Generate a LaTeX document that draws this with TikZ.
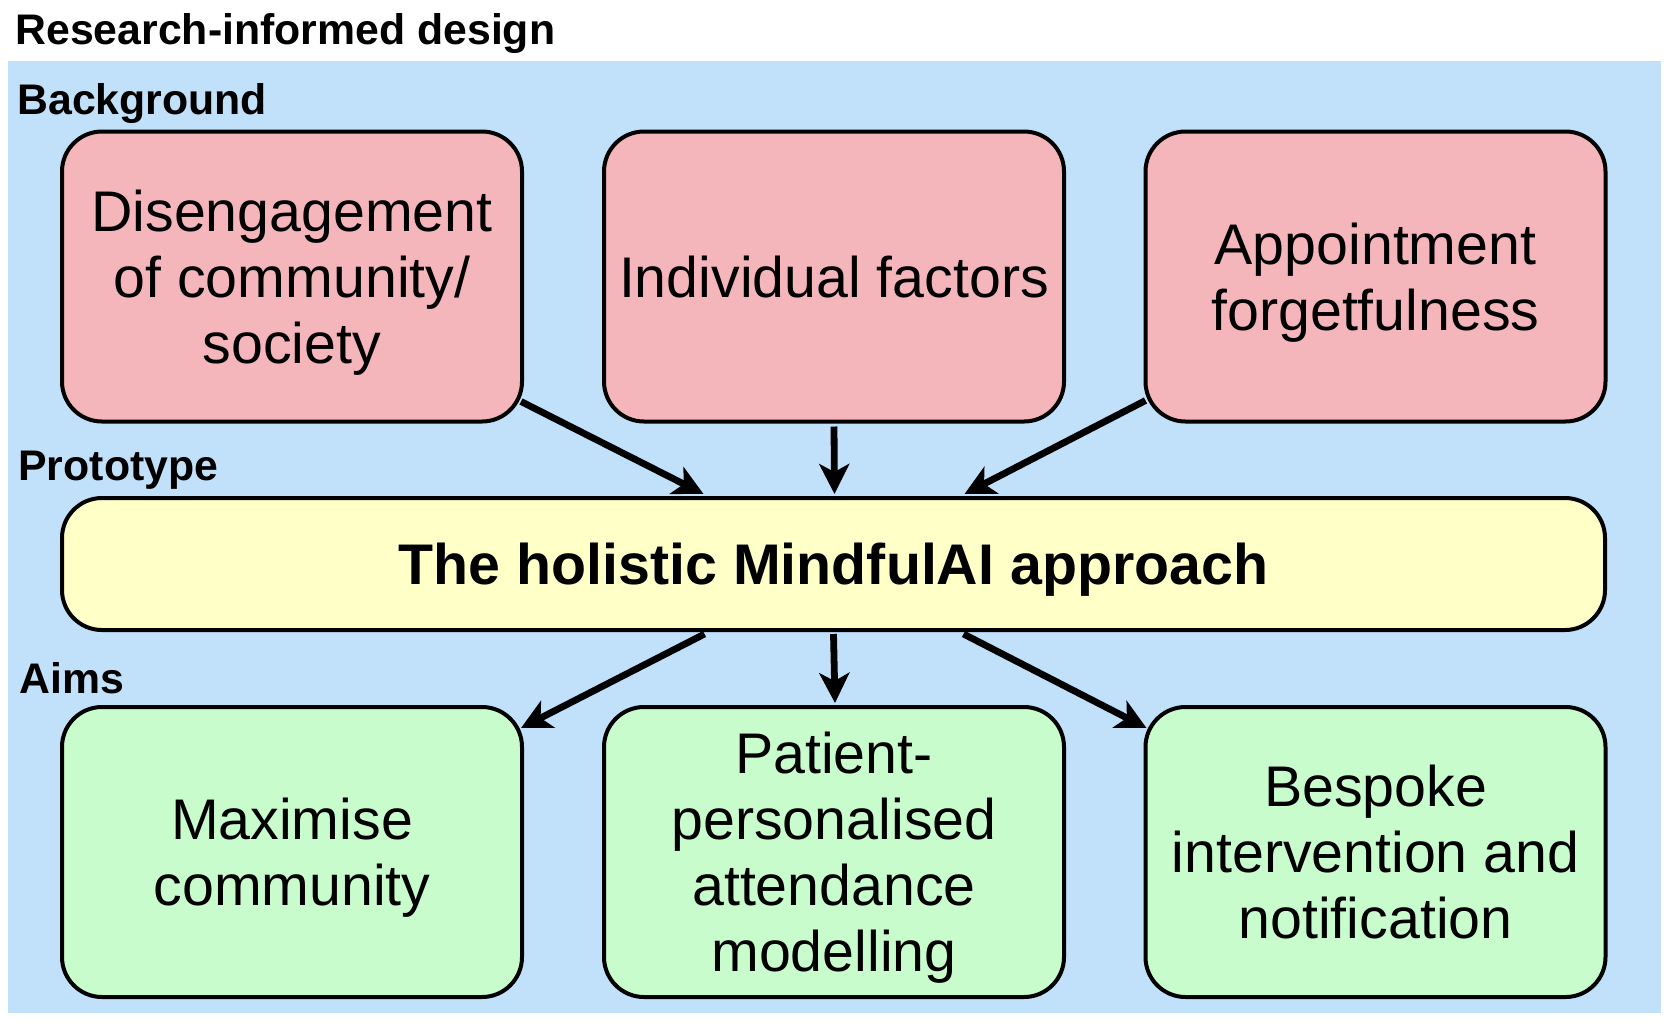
\documentclass[tikz,border=0pt]{standalone}
\usepackage{fontspec}
\setmainfont{Liberation Sans}
\usetikzlibrary{arrows.meta}
\definecolor{bgblue}{RGB}{193,224,250}
\definecolor{pinkfill}{RGB}{244,181,187}
\definecolor{yellowfill}{RGB}{255,255,200}
\definecolor{greenfill}{RGB}{200,252,205}
\begin{document}
\begin{tikzpicture}[x=0.5pt,y=-0.5pt,
  box/.style={draw=black, line width=2pt, rounded corners=20pt,
    minimum width=230pt, minimum height=145pt, align=center, inner sep=0pt,
    text depth=0pt, font=\fontsize{28.65}{33}\selectfont},
  pinkbox/.style={box, fill=pinkfill},
  greenbox/.style={box, fill=greenfill},
  midbox/.style={box, fill=yellowfill, minimum width=771.5pt, minimum height=66pt,
    font=\fontsize{28.65}{33}\selectfont\bfseries},
  lbl/.style={anchor=base west, inner sep=0pt, font=\fontsize{21.4}{25}\selectfont\bfseries},
  arr/.style={draw=black, line width=3.4pt, -{Stealth[length=15pt, width=15pt, inset=4pt]}}
]
\useasboundingbox (0,0) rectangle (1670,1024);
\fill[white] (0,0) rectangle (1670,1024);
\fill[bgblue] (8,61) rectangle (1661,1013);

\node[lbl] (title) at (15,44) {Research-informed design};
\node[lbl] (lbg) at (17,114) {Background};
\node[lbl] (lproto) at (18,480) {Prototype};
\node[lbl] (laims) at (19,693) {Aims};

\node[pinkbox] (p1) at (292,276.5) {Disengagement\\of community/\\society};
\node[pinkbox] (p2) at (834,276.5) {Individual factors};
\node[pinkbox] (p3) at (1375.5,276.5) {Appointment\\forgetfulness};

\node[midbox] (mid) at (833.5,564) {The holistic MindfulAI approach};

\node[greenbox] (g1) at (292,852) {Maximise\\community};
\node[greenbox] (g2) at (834,852) {Patient-\\personalised\\attendance\\modelling};
\node[greenbox] (g3) at (1375.5,852) {Bespoke\\intervention and\\notification};

\draw[arr] ([shift={(-3,-22)}]p1.south east) -- ([shift={(-130,-2)}]mid.north);
\draw[arr] ([shift={(0,3)}]p2.south) -- ([shift={(1,-2)}]mid.north);
\draw[arr] ([shift={(2,-23)}]p3.south west) -- ([shift={(131,-2)}]mid.north);

\draw[arr] ([shift={(-129,2)}]mid.south) -- ([shift={(-3,23)}]g1.north east);
\draw[arr] ([shift={(0,2)}]mid.south) -- ([shift={(1,-2)}]g2.north);
\draw[arr] ([shift={(130,2)}]mid.south) -- ([shift={(3,23)}]g3.north west);
\end{tikzpicture}
\end{document}
